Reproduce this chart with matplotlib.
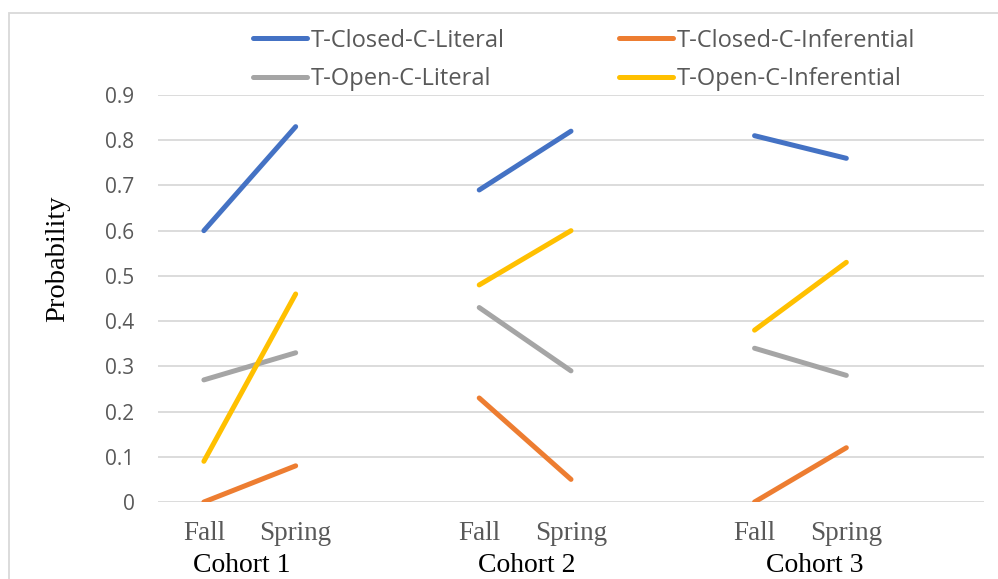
import matplotlib
matplotlib.use("Agg")
import matplotlib.pyplot as plt
from matplotlib.patches import Rectangle
from matplotlib.lines import Line2D

# ---- data ----
categories = ["Fall", "Spring", "", "Fall", "Spring", "", "Fall", "Spring", ""]
cohorts = ["Cohort 1", "Cohort 2", "Cohort 3"]
series_names = ["T-Closed-C-Literal", "T-Closed-C-Inferential",
                "T-Open-C-Literal", "T-Open-C-Inferential"]
closed_literal = [0.60, 0.83, 0.69, 0.82, 0.81, 0.76]
closed_inferential = [0.00, 0.08, 0.23, 0.05, 0.00, 0.12]
open_literal = [0.27, 0.33, 0.43, 0.29, 0.34, 0.28]
open_inferential = [0.09, 0.46, 0.48, 0.60, 0.38, 0.53]
yticks = [0, 0.1, 0.2, 0.3, 0.4, 0.5, 0.6, 0.7, 0.8, 0.9]
ytick_labels = ["0", "0.1", "0.2", "0.3", "0.4", "0.5", "0.6", "0.7", "0.8", "0.9"]

colors = ["#4472C4", "#ED7D31", "#A5A5A5", "#FFC000"]
series = [closed_literal, closed_inferential, open_literal, open_inferential]

W, H = 998, 579
fig = plt.figure(figsize=(W / 100, H / 100), dpi=100)

# outer chart frame
fig.add_artist(Rectangle((9 / W, -0.05), 1.2, (579 - 13) / H + 0.05,
                         transform=fig.transFigure, fill=False,
                         edgecolor="#D9D9D9", linewidth=1.3))

ax = fig.add_axes([158 / W, (579 - 502) / H, 826 / W, (502 - 95) / H])
ax.set_xlim(-0.5, len(categories) - 0.5)
ax.set_ylim(0, 0.9)

sans = ["Open Sans", "DejaVu Sans"]
serif = ["Liberation Serif", "DejaVu Serif"]

for vals, col in zip(series, colors):
    for c in range(3):
        xs = [3 * c, 3 * c + 1]
        ys = [vals[2 * c], vals[2 * c + 1]]
        ax.plot(xs, ys, color=col, linewidth=3.6, solid_capstyle="round",
                zorder=3)

ax.set_yticks(yticks)
ax.set_yticklabels(ytick_labels, family=sans, fontsize=15, color="#595959")
ax.set_xticks(range(len(categories)))
ax.set_xticklabels(categories, family=serif, fontsize=19.5, color="#595959")
ax.tick_params(axis="y", length=0, pad=17)
ax.tick_params(axis="x", length=0, pad=14)
ax.grid(axis="y", color="#D9D9D9", linewidth=1.3)
ax.set_axisbelow(True)
for s in ax.spines.values():
    s.set_visible(False)

# cohort labels under the category groups (layout offsets)
cohort_offsets = [0.415, 0.52, 0.66]
for i, name in enumerate(cohorts):
    ax.text(3 * i + cohort_offsets[i], -0.157, name,
            transform=ax.get_xaxis_transform(),
            ha="center", va="center", family=serif, fontsize=20, color="black")

fig.text(58 / W, 1 - 259 / H, "Probability", rotation=90, ha="center",
         va="center", family=serif, fontsize=20.5, color="black")

handles = [Line2D([], [], color=c, linewidth=3.6, solid_capstyle="round")
           for c in colors]
# legend is filled column-wise: order so rows read CL | CI, OL | OI
order = [0, 2, 1, 3]
leg = fig.legend([handles[i] for i in order], [series_names[i] for i in order],
                 ncol=2, loc="center left",
                 bbox_to_anchor=(241 / W, 1 - 60 / H), frameon=False,
                 prop={"family": sans, "size": 17}, labelcolor="#595959",
                 handlelength=2.3, handletextpad=0.15, columnspacing=4.85,
                 labelspacing=0.62, borderpad=0)

fig.savefig("out.png", dpi=100)
